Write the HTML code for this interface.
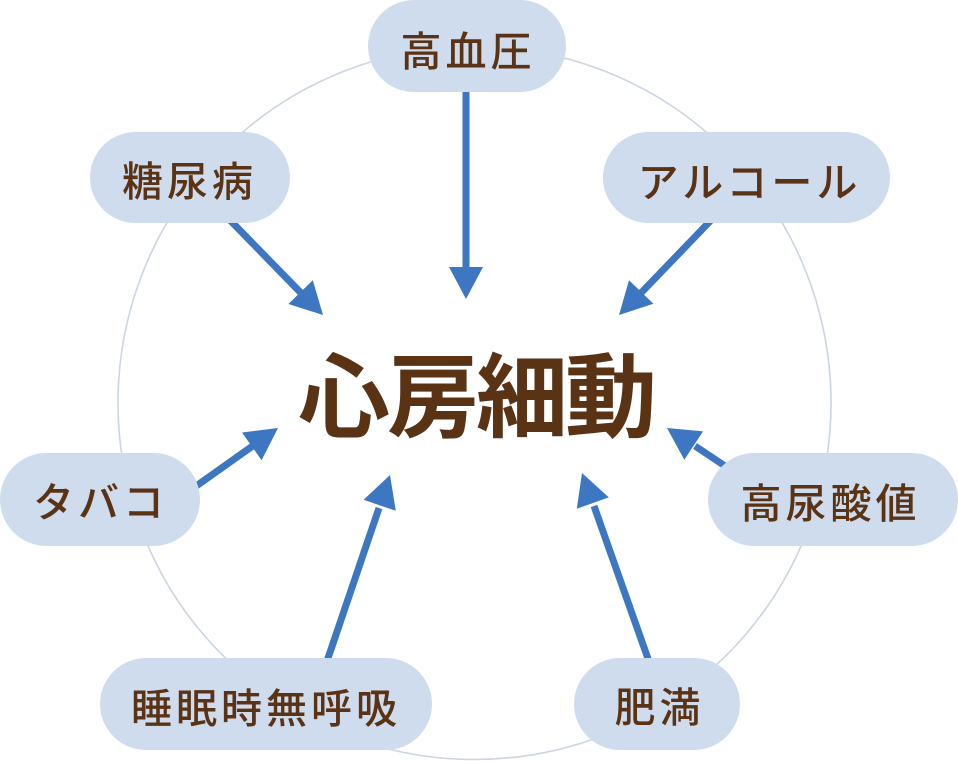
<!DOCTYPE html>
<html>
<head>
<meta charset="utf-8">
<style>
  html,body{margin:0;padding:0;background:#ffffff;}
  svg{display:block;}
  .n{font-family:"Liberation Sans","Noto Sans CJK JP",sans-serif;font-size:41px;font-weight:500;fill:#5a3214;letter-spacing:4px;}
  .c{font-family:"Liberation Sans","Noto Sans CJK JP",sans-serif;font-size:92px;font-weight:700;fill:#5a3214;letter-spacing:-3px;}
</style>
</head>
<body>
<svg width="958" height="762" viewBox="0 0 958 762" xmlns="http://www.w3.org/2000/svg">
  <!-- background circle -->
  <circle cx="474.5" cy="403" r="356.5" fill="none" stroke="#cdd5e0" stroke-width="1.6"/>

  <!-- arrows -->
  <g stroke="#3d77c2" stroke-width="7" fill="none">
    <line x1="466" y1="80" x2="466" y2="270"/>
    <line x1="225" y1="215" x2="302" y2="294"/>
    <line x1="716" y1="215" x2="640" y2="294"/>
    <line x1="740" y1="476" x2="695" y2="446"/>
    <line x1="652" y1="670" x2="594" y2="506"/>
    <line x1="324" y1="670" x2="379" y2="508"/>
    <line x1="185" y1="494" x2="254" y2="445"/>
  </g>
  <g fill="#3d77c2">
    <polygon points="466,299 449,267 483,267"/>
    <polygon points="323,315 288.4,304 312.8,280.2"/>
    <polygon points="619,315 629,280.2 653.4,303.8"/>
    <polygon points="667,428 703.1,431.4 684.3,459.8"/>
    <polygon points="582,473 608.8,497.4 576.8,508.8"/>
    <polygon points="390,475 395.8,510.8 363.6,499.8"/>
    <polygon points="278,428 261.6,460.3 242,432.5"/>
  </g>

  <!-- nodes -->
  <g fill="#cfdcee">
    <rect x="368" y="0" width="198" height="92" rx="46" ry="46"/>
    <rect x="90" y="132" width="200" height="91" rx="45.5" ry="45.5"/>
    <rect x="603" y="132" width="287" height="91" rx="45.5" ry="45.5"/>
    <rect x="0" y="453" width="200" height="93" rx="46.5" ry="46.5"/>
    <rect x="708" y="453" width="250" height="93" rx="46.5" ry="46.5"/>
    <rect x="100" y="658" width="332" height="92" rx="46" ry="46"/>
    <rect x="574" y="658" width="166" height="92" rx="46" ry="46"/>
  </g>

  <!-- labels -->
  <g text-anchor="middle">
    <text class="n" x="468" y="66">高血圧</text>
    <text class="n" x="189.5" y="196">糖尿病</text>
    <text class="n" x="749.5" y="197">アルコール</text>
    <text class="n" x="100.5" y="517">タバコ</text>
    <text class="n" x="830.5" y="518">高尿酸値</text>
    <text class="n" x="659.5" y="722">肥満</text>
    <text class="n" x="266" y="723">睡眠時無呼吸</text>
    <text class="c" x="476" y="430">心房細動</text>
  </g>
</svg>
</body>
</html>
